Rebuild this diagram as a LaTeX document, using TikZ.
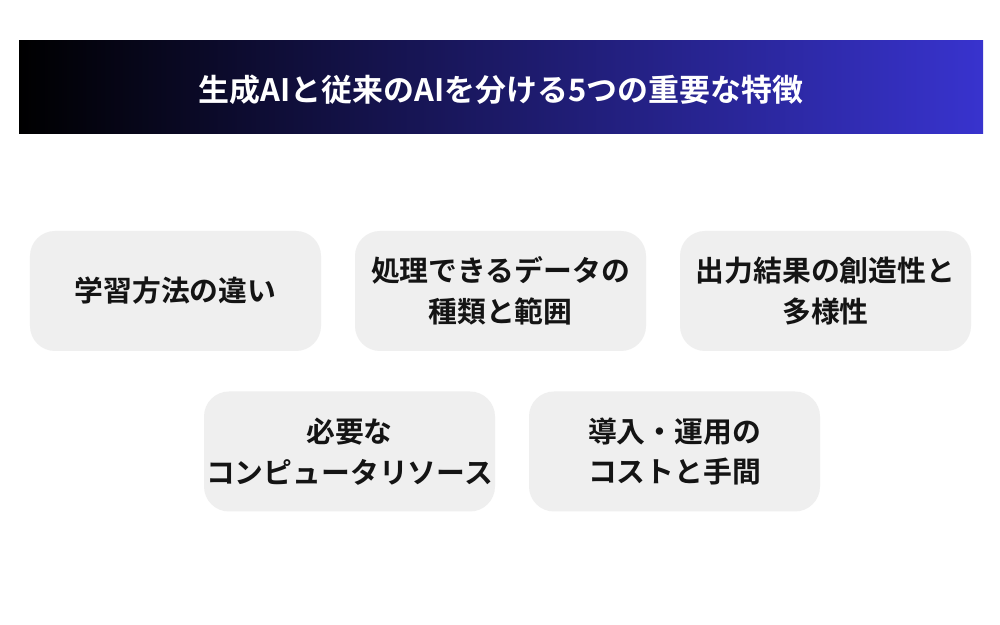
\documentclass[tikz,border=0pt]{standalone}
\usepackage{fontspec}
\setmainfont{Noto Sans CJK JP}[BoldFont={Noto Sans CJK JP Bold}]
\usepackage{tikz}
\definecolor{barblue}{RGB}{56,51,206}
\definecolor{boxgray}{RGB}{239,239,239}
\definecolor{txtdark}{RGB}{20,20,20}

\begin{document}
\begin{tikzpicture}[line cap=round,line join=round,x=1.0cm,y=1.0cm,
  feature/.style={fill=boxgray,rounded corners=0.5cm,minimum width=5.82cm,minimum height=2.4cm,
    inner xsep=0pt,align=center,text=txtdark,font=\fontsize{16.4pt}{23pt}\selectfont\bfseries},
  titletext/.style={text=white,font=\fontsize{17.6pt}{22pt}\selectfont\bfseries}]
      \useasboundingbox (0.,0.) rectangle (20.,12.5);
      \fill [white] (0.,0.) rectangle (20.,12.5);
      \shade [left color=black,right color=barblue] (0.38,9.82) rectangle (19.66,11.68);
      \node [titletext] (title) at (10.02,10.71) {生成AIと従来のAIを分ける5つの重要な特徴};
      \node [feature] (learn) at (3.51,6.68) {学習方法の違い};
      \node [feature] (data) at (10.01,6.68) {処理できるデータの\\種類と範囲};
      \node [feature] (output) at (16.51,6.68) {出力結果の創造性と\\多様性};
      \node [feature] (compute) at (6.99,3.47) {必要な\\コンピュータリソース};
      \node [feature] (cost) at (13.49,3.47) {導入・運用の\\コストと手間};
    \end{tikzpicture}
\end{document}
